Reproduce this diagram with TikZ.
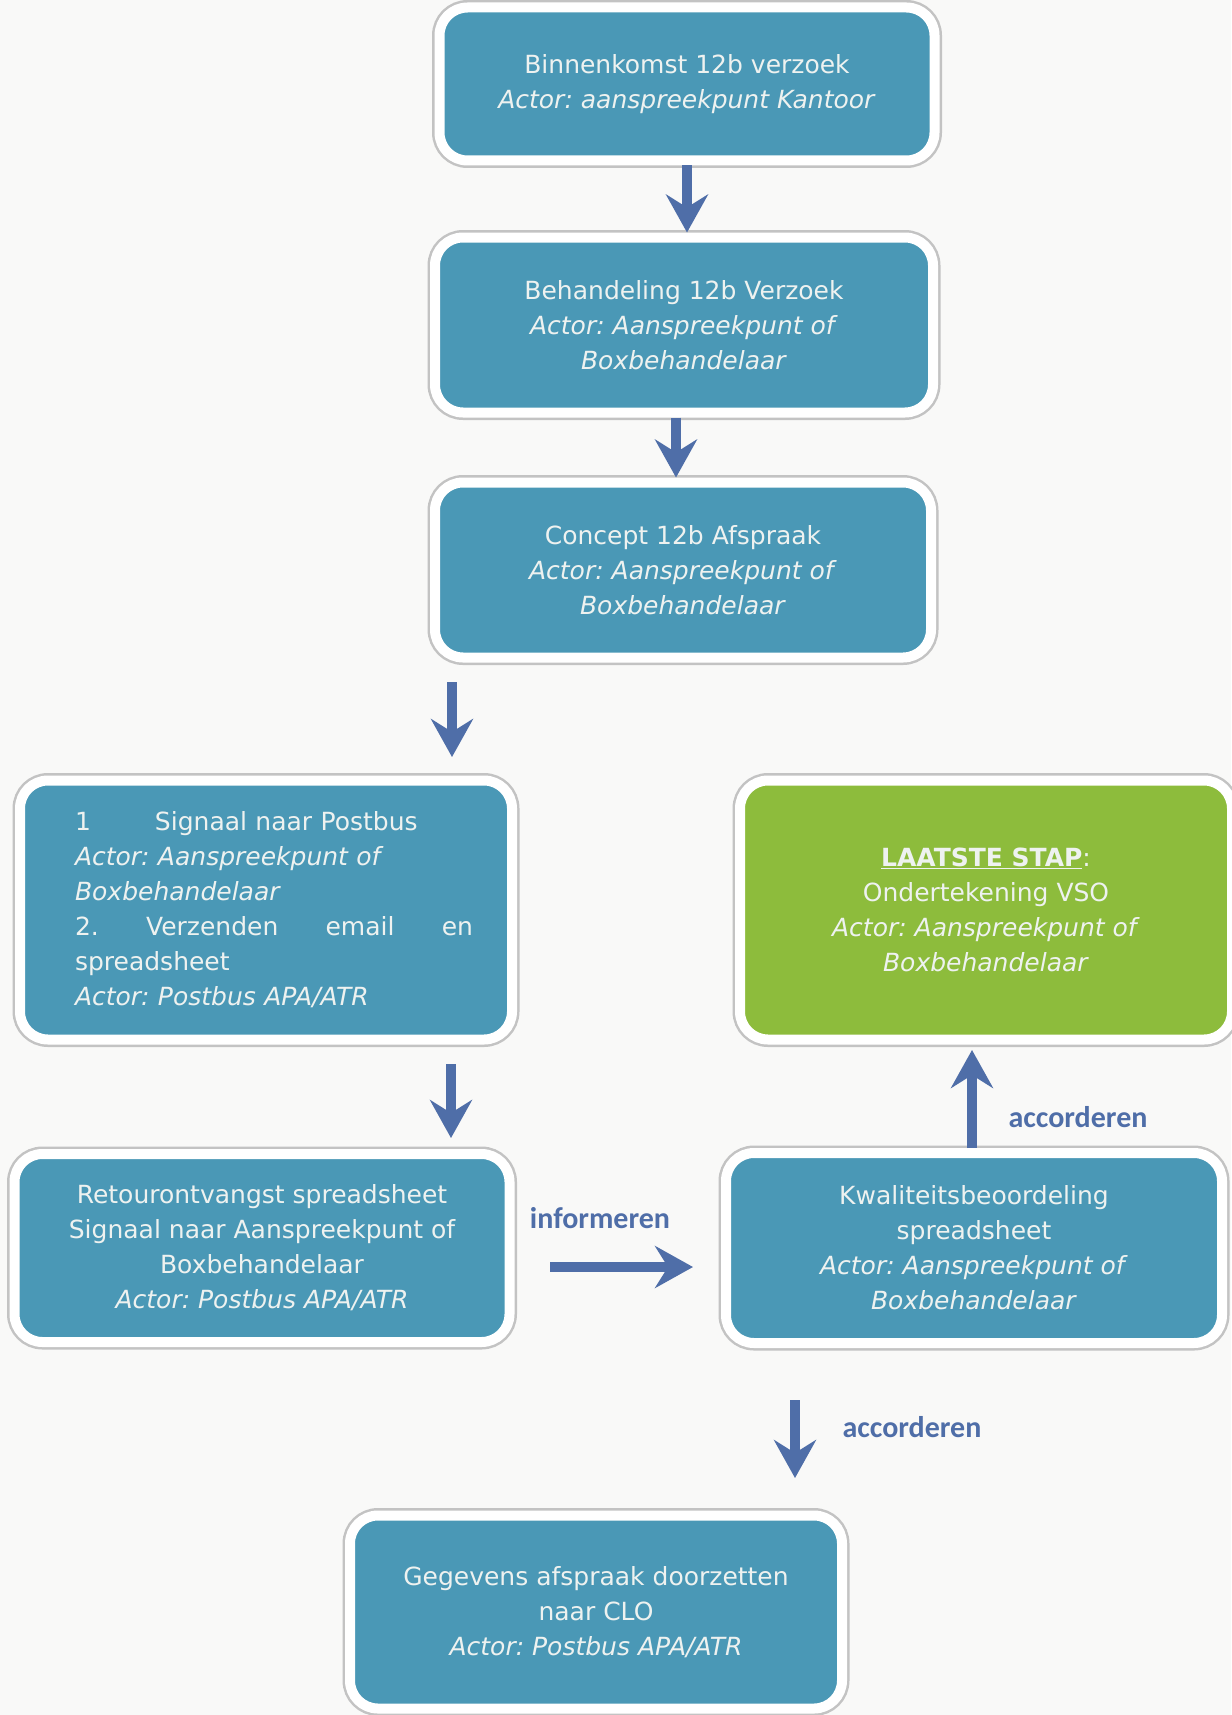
\documentclass[tikz,border=0pt]{standalone}
\usepackage{fontspec}
\setmainfont{DejaVu Sans}
\newfontfamily\labelfont{Carlito}
\usetikzlibrary{arrows.meta}
\frenchspacing

\definecolor{stepteal}{RGB}{74,152,182}
\definecolor{stepgreen}{RGB}{141,188,60}
\definecolor{arrowblue}{RGB}{79,110,168}
\definecolor{boxtext}{RGB}{238,242,240}
\definecolor{rimgray}{RGB}{195,195,195}
\definecolor{paper}{RGB}{249,249,248}

\newcommand{\ind}{\hspace*{16pt}}

\begin{document}
\begin{tikzpicture}[
    % styles
    x=1pt, y=-1pt,
    box/.style={rectangle, rounded corners=28pt, fill=stepteal, draw=white, line width=10pt,
        preaction={draw=rimgray, line width=15pt},
        text=boxtext, font=\fontsize{25}{35}\selectfont, align=center, inner sep=0pt},
    last box/.style={box, fill=stepgreen},
    flow/.style={draw=arrowblue, line width=10pt, -{Stealth[length=38pt,width=42pt,inset=13pt]}},
    annot/.style={text=arrowblue, font=\labelfont\bfseries\fontsize{30}{30}\selectfont}
]

    % --- 0. page ---
    \fill[paper] (0,0) rectangle (1231,1715);
    \useasboundingbox (0,0) rectangle (1231,1715);

    % --- 1. main column ---
    \node[box, minimum width=495pt, minimum height=153pt] (intake) at (687,84)
        {Binnenkomst 12b verzoek\\ \textit{Actor: aanspreekpunt Kantoor}};
    \node[box, minimum width=498pt, minimum height=175pt] (review) at (684,325)
        {Behandeling 12b Verzoek\\ \textit{Actor: Aanspreekpunt of}\\ \textit{Boxbehandelaar}};
    \node[box, minimum width=496pt, minimum height=175pt] (concept) at (683,570)
        {Concept 12b Afspraak\\ \textit{Actor: Aanspreekpunt of}\\ \textit{Boxbehandelaar}};

    % --- 2. left column ---
    \node[box, minimum width=492pt, minimum height=259pt, text width=414pt, align=left] (signal) at (266,910)
        {\ind\makebox[80pt][l]{1}Signaal naar Postbus\\
         \ind\textit{Actor: Aanspreekpunt of}\\
         \ind\textit{Boxbehandelaar}\\
         \ind\makebox[398pt][s]{2.\hfill Verzenden\hfill email\hfill en}\\
         \ind spreadsheet\\
         \ind\textit{Actor: Postbus APA/ATR}};
    \node[box, minimum width=495pt, minimum height=188pt] (retour) at (262,1248)
        {Retourontvangst spreadsheet\\ Signaal naar Aanspreekpunt of\\ Boxbehandelaar\\ \textit{Actor: Postbus APA/ATR}};

    % --- 3. right column ---
    \node[last box, minimum width=492pt, minimum height=259pt] (final) at (986,910)
        {{\bfseries\underline{LAATSTE STAP}}:\\ Ondertekening VSO\\ \textit{Actor: Aanspreekpunt of}\\ \textit{Boxbehandelaar}};
    \node[box, minimum width=496pt, minimum height=190pt] (quality) at (974,1248)
        {Kwaliteitsbeoordeling\\ spreadsheet\\ \textit{Actor: Aanspreekpunt of}\\ \textit{Boxbehandelaar}};

    % --- 4. bottom ---
    \node[box, minimum width=492pt, minimum height=193pt] (clo) at (596,1612)
        {Gegevens afspraak doorzetten\\ naar CLO\\ \textit{Actor: Postbus APA/ATR}};

    % --- 5. free arrow ends ---
    \coordinate (sigTop) at (452,682);
    \coordinate (sigIn) at (452,757);
    \coordinate (retTop) at (451,1064);
    \coordinate (retIn) at (451,1138);
    \coordinate (infFrom) at (550,1267);
    \coordinate (infTo) at (693,1267);
    \coordinate (finIn) at (972,1050);
    \coordinate (cloTop) at (795,1400);
    \coordinate (cloIn) at (795,1478);

    % --- 6. arrows ---
    \draw[flow] (intake.south) -- (intake.south |- review.north);
    \draw[flow] ([xshift=-8pt]review.south) -- ([xshift=-8pt]review.south |- concept.north);
    \draw[flow] (sigTop) -- (sigIn);
    \draw[flow] (retTop) -- (retIn);
    \draw[flow] (infFrom) -- (infTo);
    \draw[flow] ([xshift=-2pt]quality.north) -- (finIn);
    \draw[flow] (cloTop) -- (cloIn);

    % --- 7. labels ---
    \node[annot] (inf) at (600,1218) {informeren};
    \node[annot] (acc1) at (1078,1117) {accorderen};
    \node[annot] (acc2) at (912,1427) {accorderen};

\end{tikzpicture}
\end{document}
